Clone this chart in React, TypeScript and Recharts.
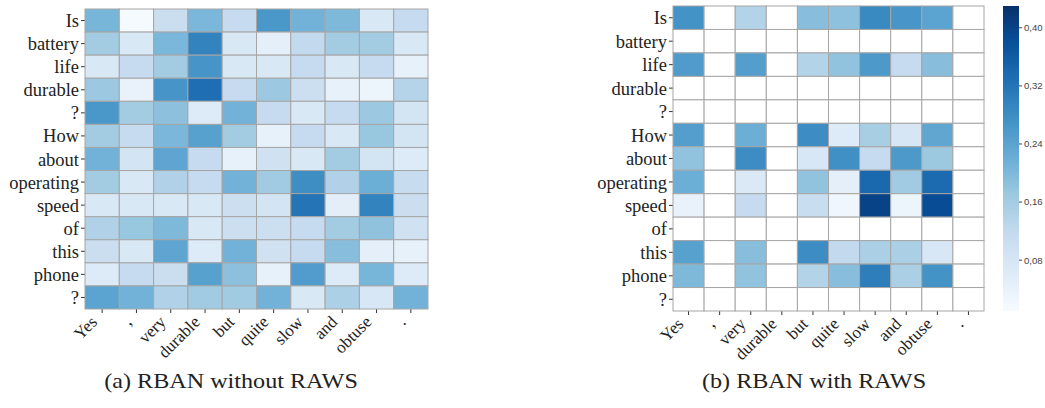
import React from "react"
import {
  ReferenceArea,
  Scatter,
  ScatterChart,
  XAxis,
  YAxis,
} from "recharts"

const COLS = ["Yes", ",", "very", "durable", "but", "quite", "slow", "and", "obtuse", "."]
const ROWS = [
  "Is", "battery", "life", "durable", "?", "How", "about",
  "operating", "speed", "of", "this", "phone", "?",
]

// (a) without RAWS: relative intensity 0..1
const LEFT_VALUES = [
  [0.47, 0.01, 0.23, 0.46, 0.25, 0.6, 0.48, 0.45, 0.15, 0.25],
  [0.36, 0.15, 0.46, 0.68, 0.15, 0.09, 0.26, 0.36, 0.36, 0.15],
  [0.15, 0.25, 0.36, 0.61, 0.15, 0.15, 0.25, 0.15, 0.25, 0.08],
  [0.38, 0.07, 0.61, 0.76, 0.25, 0.38, 0.22, 0.08, 0.05, 0.3],
  [0.6, 0.36, 0.42, 0.13, 0.48, 0.25, 0.15, 0.25, 0.38, 0.18],
  [0.36, 0.25, 0.46, 0.56, 0.36, 0.08, 0.25, 0.15, 0.39, 0.18],
  [0.48, 0.18, 0.54, 0.25, 0.08, 0.2, 0.15, 0.36, 0.18, 0.13],
  [0.36, 0.15, 0.32, 0.25, 0.48, 0.37, 0.64, 0.32, 0.5, 0.24],
  [0.15, 0.15, 0.15, 0.15, 0.22, 0.18, 0.74, 0.1, 0.68, 0.23],
  [0.32, 0.39, 0.45, 0.15, 0.22, 0.22, 0.25, 0.36, 0.41, 0.2],
  [0.23, 0.15, 0.54, 0.13, 0.48, 0.2, 0.25, 0.43, 0.09, 0.08],
  [0.13, 0.25, 0.23, 0.56, 0.42, 0.08, 0.58, 0.13, 0.47, 0.13],
  [0.55, 0.48, 0.32, 0.37, 0.37, 0.48, 0.15, 0.33, 0.16, 0.48],
]

// (b) with RAWS: attention weights, null = masked
const RIGHT_VALUES = [
  [0.27, null, 0.14, null, 0.19, 0.185, 0.285, 0.265, 0.24, null],
  [null, null, null, null, null, null, null, null, null, null],
  [0.255, null, 0.25, null, 0.14, 0.18, 0.26, 0.115, 0.19, null],
  [null, null, null, null, null, null, null, null, null, null],
  [null, null, null, null, null, null, null, null, null, null],
  [0.25, null, 0.22, null, 0.28, 0.065, 0.155, 0.08, 0.235, null],
  [0.18, null, 0.28, null, 0.075, 0.275, 0.115, 0.26, 0.17, null],
  [0.22, null, 0.07, null, 0.18, 0.05, 0.34, 0.165, 0.335, null],
  [0.04, null, 0.115, null, 0.11, 0.025, 0.4, 0.03, 0.385, null],
  [null, null, null, null, null, null, null, null, null, null],
  [0.245, null, 0.19, null, 0.28, 0.12, 0.15, 0.15, 0.075, null],
  [0.2, null, 0.18, null, 0.14, 0.19, 0.305, 0.15, 0.27, null],
  [null, null, null, null, null, null, null, null, null, null],
]

const CBAR_MIN = 0.01
const CBAR_MAX = 0.43
const CBAR_TICKS = [0.08, 0.16, 0.24, 0.32, 0.4]

const BLUES = [
  "#f7fbff", "#deebf7", "#c6dbef", "#9ecae1", "#6baed6",
  "#4292c6", "#2171b5", "#08519c", "#08306b",
]

const SERIF = "'Liberation Serif', 'Times New Roman', serif"
const GRID = "#a6a6a6"

function hexToRgb(h: string) {
  return [1, 3, 5].map((i) => parseInt(h.slice(i, i + 2), 16))
}

function blues(t: number) {
  const c = Math.max(0, Math.min(1, t)) * (BLUES.length - 1)
  const i = Math.min(BLUES.length - 2, Math.floor(c))
  const f = c - i
  const a = hexToRgb(BLUES[i])
  const b = hexToRgb(BLUES[i + 1])
  const m = a.map((v, k) => Math.round(v + (b[k] - v) * f))
  return `rgb(${m[0]},${m[1]},${m[2]})`
}

type HeatmapProps = {
  values: (number | null)[][]
  range: [number, number]
  width: number
  height: number
  top: number
  right: number
  yAxisWidth: number
}

const X_AXIS_HEIGHT = 60

function XTick(props: any) {
  const { x, y, payload } = props
  const ax = x - 4
  const ay = y + 8
  return (
    <text
      x={ax}
      y={ay}
      transform={`rotate(-45 ${ax} ${ay})`}
      textAnchor="end"
      fontSize={17}
      fontFamily={SERIF}
      fill="#222"
    >
      {COLS[payload.value]}
    </text>
  )
}

function Heatmap({ values, range, width, height, top, right, yAxisWidth }: HeatmapProps) {
  const plotW = width - yAxisWidth - right
  const plotH = height - top - X_AXIS_HEIGHT
  const cellW = plotW / COLS.length
  const cellH = plotH / ROWS.length
  const cells = ROWS.flatMap((_, i) =>
    COLS.map((_, j) => ({ x: j, y: i, v: values[i][j] }))
  )

  const Cell = (p: any) => {
    const v = p.payload.v
    const fill = v === null ? "#ffffff" : blues((v - range[0]) / (range[1] - range[0]))
    return (
      <rect
        x={p.cx - cellW / 2}
        y={p.cy - cellH / 2}
        width={cellW}
        height={cellH}
        fill={fill}
        stroke={GRID}
        strokeWidth={1}
      />
    )
  }

  return (
    <ScatterChart
      width={width}
      height={height}
      margin={{ top, right, bottom: 0, left: 0 }}
    >
      <XAxis
        type="number"
        dataKey="x"
        domain={[-0.5, COLS.length - 0.5]}
        ticks={COLS.map((_, i) => i)}
        interval={0}
        height={X_AXIS_HEIGHT}
        axisLine={false}
        tickSize={4}
        tickLine={{ stroke: "#333" }}
        tick={<XTick />}
      />
      <YAxis
        type="number"
        dataKey="y"
        reversed
        domain={[-0.5, ROWS.length - 0.5]}
        ticks={ROWS.map((_, i) => i)}
        interval={0}
        width={yAxisWidth}
        axisLine={false}
        tickSize={4}
        tickLine={{ stroke: "#333" }}
        tickFormatter={(i) => ROWS[i]}
        tick={{ fontSize: 18.5, fontFamily: SERIF, fill: "#222" }}
      />
      <Scatter data={cells} shape={Cell} isAnimationActive={false} />
    </ScatterChart>
  )
}

function ColorBar() {
  const tickPoints = CBAR_TICKS.map((t) => ({ x: 0.5, y: t }))
  return (
    <ScatterChart width={42} height={311} margin={{ top: 6, right: 0, bottom: 0, left: 0 }}>
      <defs>
        <linearGradient id="cbar" x1="0" y1="1" x2="0" y2="0">
          {BLUES.map((c, i) => (
            <stop key={i} offset={i / (BLUES.length - 1)} stopColor={c} />
          ))}
        </linearGradient>
      </defs>
      <XAxis type="number" dataKey="x" domain={[0, 1]} hide />
      <YAxis
        type="number"
        dataKey="y"
        orientation="right"
        domain={[CBAR_MIN, CBAR_MAX]}
        ticks={CBAR_TICKS}
        width={26}
        axisLine={false}
        tickSize={3}
        tickLine={{ stroke: "#444" }}
        tickFormatter={(v) => Number(v).toFixed(2).replace(".", ",")}
        tick={{ fontSize: 9.6, fontFamily: "'Liberation Sans', Arial, sans-serif", fill: "#444" }}
      />
      <ReferenceArea
        x1={0}
        x2={1}
        y1={CBAR_MIN}
        y2={CBAR_MAX}
        fill="url(#cbar)"
        fillOpacity={1}
        stroke="none"
        ifOverflow="visible"
      />
      <Scatter data={tickPoints} shape={() => <g />} isAnimationActive={false} />
    </ScatterChart>
  )
}

const captionStyle: React.CSSProperties = {
  position: "absolute",
  top: 369,
  fontFamily: SERIF,
  fontSize: 21,
  color: "#222",
  whiteSpace: "nowrap",
  transform: "translateX(-50%) scaleX(1.15)",
}

export default function App() {
  return (
    <div style={{ position: "relative", width: 1045, height: 408, background: "#fff" }}>
      <style>{`body{margin:0}`}</style>
      <div style={{ position: "absolute", left: 0, top: 0 }}>
        <Heatmap
          values={LEFT_VALUES}
          range={[0, 1]}
          width={440}
          height={369}
          top={9}
          right={12}
          yAxisWidth={85}
        />
      </div>
      <div style={{ position: "absolute", left: 590, top: 0 }}>
        <Heatmap
          values={RIGHT_VALUES}
          range={[CBAR_MIN, CBAR_MAX]}
          width={400}
          height={371}
          top={6}
          right={6}
          yAxisWidth={83}
        />
      </div>
      <div style={{ position: "absolute", left: 1003, top: 0 }}>
        <ColorBar />
      </div>
      <div style={{ ...captionStyle, left: 231 }}>(a) RBAN without RAWS</div>
      <div style={{ ...captionStyle, left: 814 }}>(b) RBAN with RAWS</div>
    </div>
  )
}
